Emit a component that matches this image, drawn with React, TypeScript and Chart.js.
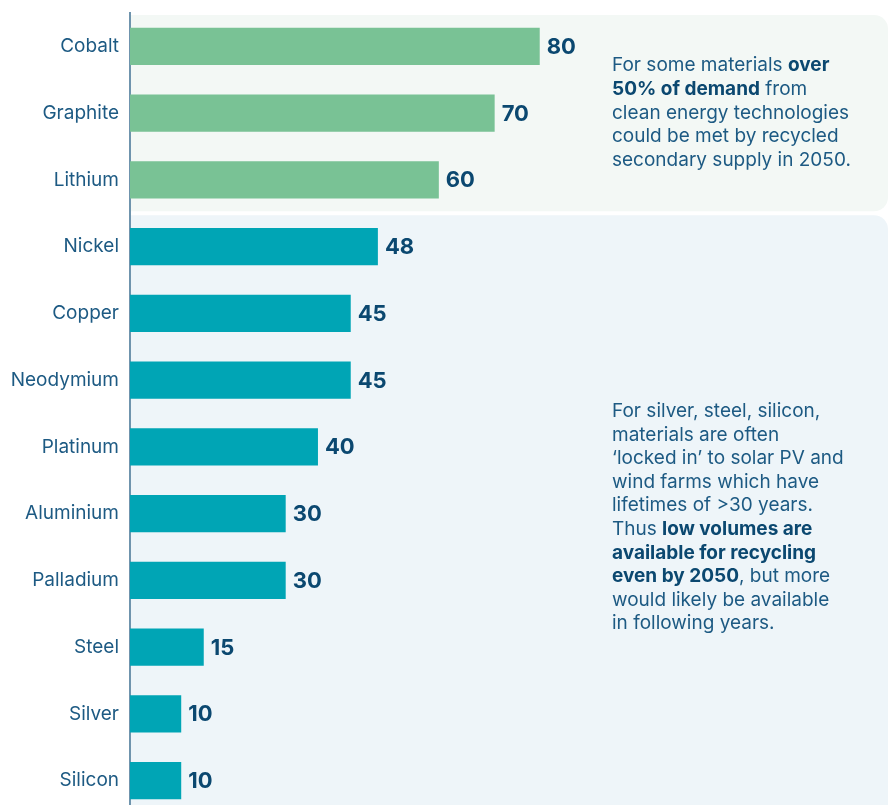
import React, { useEffect, useRef } from "react";
import { Chart, registerables } from "chart.js";

Chart.register(...registerables);

const categories = ["Cobalt", "Graphite", "Lithium", "Nickel", "Copper", "Neodymium", "Platinum", "Aluminium", "Palladium", "Steel", "Silver", "Silicon"];
// bar lengths as drawn in the picture
const barValues = [80, 71.2, 60.3, 48.4, 43.1, 43.1, 36.7, 30.4, 30.4, 14.4, 10, 10];
// value labels as printed in the picture
const valueLabels = ["80", "70", "60", "48", "45", "45", "40", "30", "30", "15", "10", "10"];
const groupOf = ["high", "high", "high", "low", "low", "low", "low", "low", "low", "low", "low", "low"];

type Seg = [string, boolean];
const noteTop: Seg[][] = [
  [["For some materials ", false], ["over", true]],
  [["50% of demand", true], [" from", false]],
  [["clean energy technologies", false]],
  [["could be met by recycled", false]],
  [["secondary supply in 2050.", false]],
];
const noteBottom: Seg[][] = [
  [["For silver, steel, silicon,", false]],
  [["materials are often", false]],
  [["\u2018locked in\u2019 to solar PV and", false]],
  [["wind farms which have", false]],
  [["lifetimes of >30 years.", false]],
  [["Thus ", false], ["low volumes are", true]],
  [["available for recycling", true]],
  [["even by 2050", true], [", but more", false]],
  [["would likely be available", false]],
  [["in following years.", false]],
];

const GREEN = "#79c295";
const TEAL = "#00a5b5";
const LABEL = "#1d5a83";
const DARK = "#0b4870";
const FONT = "Inter, 'Noto Sans', sans-serif";

const bgPlugin = {
  id: "bgBoxes",
  beforeDraw(chart: any) {
    const { ctx, chartArea } = chart;
    const y = chart.scales.y;
    const slot = y.getPixelForValue(1) - y.getPixelForValue(0);
    const edge = (i: number) => y.getPixelForValue(i) - slot / 2;
    const x0 = chartArea.left;
    const x1 = 888;
    ctx.save();
    ctx.fillStyle = "#f3f8f5";
    ctx.beginPath();
    ctx.roundRect(x0, edge(0) + 2, x1 - x0, edge(3) - 2 - (edge(0) + 2), [0, 14, 14, 0]);
    ctx.fill();
    ctx.fillStyle = "#eef5f9";
    ctx.beginPath();
    ctx.roundRect(x0, edge(3) + 2, x1 - x0, edge(12) + 20 - (edge(3) + 2), [0, 14, 14, 0]);
    ctx.fill();
    ctx.restore();
  },
};

function drawRich(ctx: CanvasRenderingContext2D, lines: Seg[][], x: number, y0: number, lh: number) {
  lines.forEach((line, li) => {
    let x1 = x;
    line.forEach(([t, b]) => {
      ctx.font = `${b ? "bold " : ""}19px ${FONT}`;
      ctx.fillStyle = b ? DARK : LABEL;
      ctx.fillText(t, x1, y0 + li * lh);
      x1 += ctx.measureText(t).width;
    });
  });
}

const labelPlugin = {
  id: "valueLabels",
  afterDatasetsDraw(chart: any) {
    const { ctx } = chart;
    const meta = chart.getDatasetMeta(0);
    ctx.save();
    ctx.font = `bold 22px ${FONT}`;
    ctx.fillStyle = DARK;
    ctx.textAlign = "left";
    ctx.textBaseline = "middle";
    meta.data.forEach((bar: any, i: number) => {
      ctx.fillText(valueLabels[i], bar.x + 7, bar.y + 1);
    });
    ctx.textBaseline = "alphabetic";
    drawRich(ctx, noteTop, 612, 71, 23.8);
    drawRich(ctx, noteBottom, 612, 417, 23.6);
    ctx.restore();
  },
};

export default function App() {
  const ref = useRef<HTMLCanvasElement>(null);
  useEffect(() => {
    document.body.style.margin = "0";
    const chart = new Chart(ref.current!, {
      type: "bar",
      data: {
        labels: categories,
        datasets: [
          {
            data: barValues,
            backgroundColor: groupOf.map((g) => (g === "high" ? GREEN : TEAL)),
            categoryPercentage: 1,
            barPercentage: 0.555,
            borderWidth: 0,
          },
        ],
      },
      options: {
        indexAxis: "y",
        responsive: false,
        animation: false,
        layout: { padding: { top: 13, right: 0, bottom: 0, left: 0 } },
        plugins: { legend: { display: false }, tooltip: { enabled: false } },
        scales: {
          x: { display: false, min: 0, max: 148 },
          y: {
            afterFit: (s: any) => {
              s.width = 130;
              s.paddingTop = 0;
              s.paddingBottom = 0;
            },
            grid: { display: false, drawTicks: false },
            border: { display: true, color: "#6f94ad", width: 2 },
            ticks: { color: LABEL, font: { family: FONT, size: 19 }, padding: 11 },
          },
        },
      },
      plugins: [bgPlugin, labelPlugin],
    });
    return () => chart.destroy();
  }, []);
  return (
    <div style={{ width: 888, height: 805, overflow: "hidden", position: "relative" }}>
      <canvas ref={ref} width={888} height={814} style={{ display: "block" }} />
    </div>
  );
}
